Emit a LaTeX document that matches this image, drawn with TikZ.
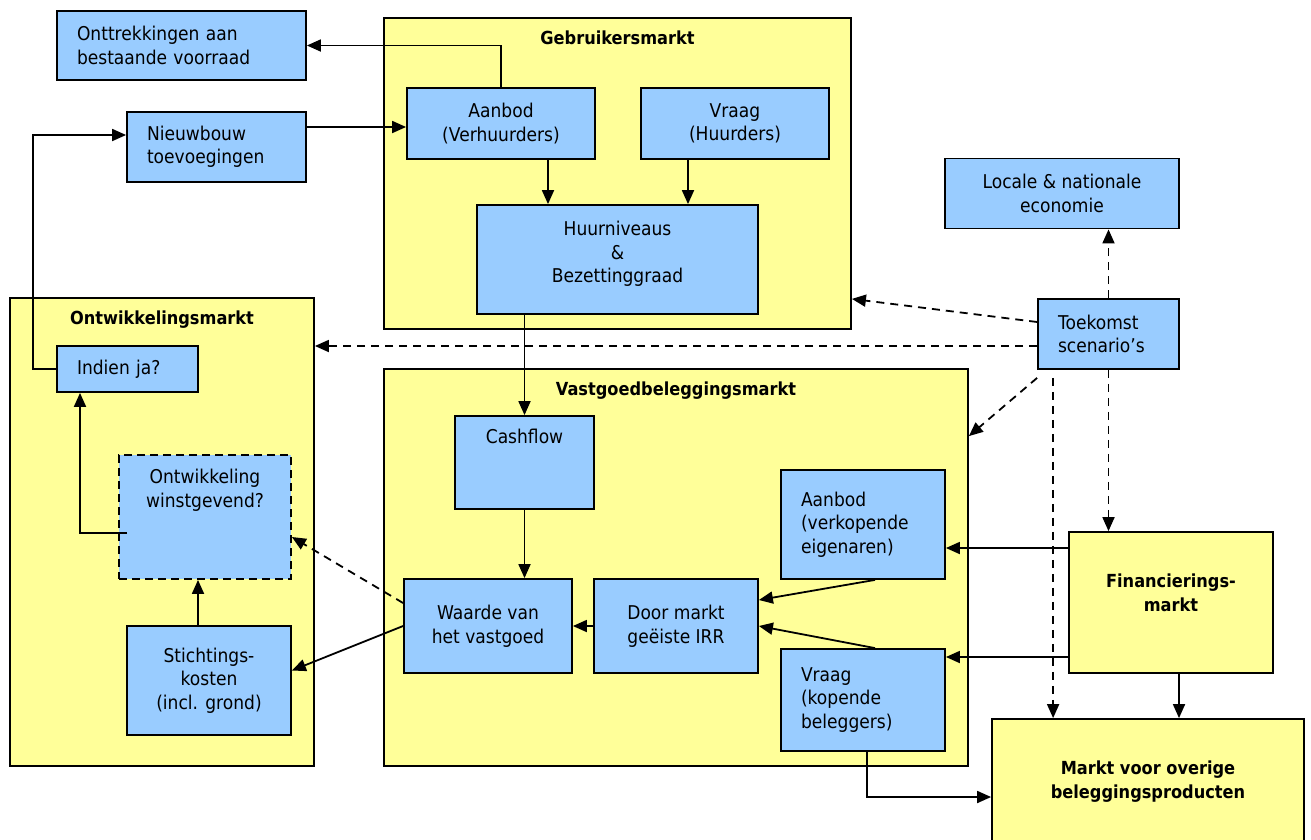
\documentclass[tikz,border=0pt]{standalone}
\usepackage{fontspec}
\setmainfont{DejaVu Sans}[FakeStretch=0.9]
\usetikzlibrary{arrows.meta, positioning, calc}
\definecolor{mktyellow}{HTML}{FFFF99}
\definecolor{blkblue}{HTML}{99CCFF}
\newcommand\mkfont{\fontsize{19}{23.5}\selectfont}
\newcommand\mkbold{\fontsize{18}{24}\selectfont\bfseries}

\begin{document}
\begin{tikzpicture}[
  x=1pt, y=-1pt,
  every node/.style={font=\mkfont},
  mkt/.style={draw, fill=mktyellow, line width=1.8pt, inner sep=0pt, align=center},
  blk/.style={draw, fill=blkblue, line width=1.8pt, inner sep=0pt, align=center},
  lblk/.style={blk, align=left, inner xsep=20pt},
  title/.style={anchor=north, inner sep=0pt, yshift=-14pt, font=\mkbold},
  toptext/.style={anchor=north, inner sep=0pt, yshift=-15pt, align=center},
  flow/.style={-{Triangle[length=14pt,width=12pt]}, line width=1.8pt},
  scen/.style={flow, dash pattern=on 8pt off 6pt},
]
\useasboundingbox (0,0) rectangle (1311,839);

% markten
\node[mkt, minimum width=467pt, minimum height=311pt,
      label={[title]north:Gebruikersmarkt}] (gebr) at (617.5,173.5) {};
\node[mkt, minimum width=304pt, minimum height=468pt,
      label={[title]north:Ontwikkelingsmarkt}] (ontw) at (162,532) {};
\node[mkt, minimum width=584pt, minimum height=397pt,
      label={[title]north:Vastgoedbeleggingsmarkt}] (vast) at (676,567.5) {};
\node[mkt, minimum width=204pt, minimum height=141pt, text depth=20pt, font=\mkbold] (fin) at (1171,602.5) {Financierings-\\markt};
\node[mkt, minimum width=312pt, minimum height=126pt, font=\mkbold] (markt) at (1148,782) {Markt voor overige\\beleggingsproducten};

% gebruikersmarkt
\node[lblk, text width=209pt, minimum height=69pt] (ontt) at (181.5,45.5) {Onttrekkingen aan\\bestaande voorraad};
\node[lblk, text width=139pt, minimum height=70pt] (nieuw) at (216.5,147) {Nieuwbouw\\toevoegingen};
\node[blk, minimum width=188pt, minimum height=71pt] (aanbodv) at (501,123.5) {Aanbod\\(Verhuurders)};
\node[blk, minimum width=188pt, minimum height=71pt] (vraagh) at (735,123.5) {Vraag\\(Huurders)};
\node[blk, minimum width=281pt, minimum height=109pt, text depth=15pt] (huur) at (617.5,259.5) {Huurniveaus\\\&\\Bezettinggraad};

% ontwikkelingsmarkt
\node[lblk, text width=101pt, minimum height=46pt] (indien) at (127.5,369) {Indien ja?};
\node[blk, dash pattern=on 8pt off 5pt, minimum width=172pt, minimum height=124pt,
      label={[toptext]north:Ontwikkeling\\winstgevend?}] (winst) at (205,517) {};
\node[blk, minimum width=164pt, minimum height=109pt] (sticht) at (209,680.5) {Stichtings-\\kosten\\(incl. grond)};

% vastgoedbeleggingsmarkt
\node[blk, minimum width=139pt, minimum height=93pt,
      label={[toptext, yshift=1pt]north:Cashflow}] (cash) at (524.5,462.5) {};
\node[blk, minimum width=168pt, minimum height=94pt] (waarde) at (488,626) {Waarde van\\het vastgoed};
\node[blk, minimum width=164pt, minimum height=94pt] (door) at (676,626) {Door markt\\geëiste IRR};
\node[lblk, text width=124pt, minimum height=109pt] (aanbodk) at (863,524.5) {Aanbod\\(verkopende\\eigenaren)};
\node[lblk, text width=124pt, minimum height=102pt] (vraagk) at (863,700) {Vraag\\(kopende\\beleggers)};

% omgeving
\node[blk, minimum width=234pt, minimum height=70pt] (locale) at (1062,193.5) {Locale \& nationale\\economie};
\node[lblk, text width=101pt, minimum height=70pt] (toek) at (1108.5,334) {Toekomst\\scenario’s};

% pijlen gebruikersmarkt
\draw[flow] (aanbodv.north) |- (ontt.east);
\draw[flow] ([yshift=20pt]nieuw.east) -- ([yshift=20pt]nieuw.east -| aanbodv.west);
\draw[flow] ([xshift=47pt]aanbodv.south) -- ([xshift=47pt]aanbodv.south |- huur.north);
\draw[flow] ([xshift=-47pt]vraagh.south) -- ([xshift=-47pt]vraagh.south |- huur.north);
\draw[flow] (cash.north |- huur.south) -- (cash.north);

% pijlen ontwikkelingsmarkt
\draw[flow] (indien.west) -- ++(-23,0) |- ([yshift=12pt]nieuw.west);
\draw[flow] ([xshift=9pt,yshift=-16pt]winst.west) -| ([xshift=-47.5pt]indien.south);
\draw[flow] ([xshift=-11pt]sticht.north) -- ([xshift=-11pt]sticht.north |- winst.south);

% pijlen vastgoedbeleggingsmarkt
\draw[flow] (cash.south) -- (cash.south |- waarde.north);
\draw[flow] (door.west) -- (waarde.east);
\draw[flow] ([xshift=12pt]aanbodk.south) -- ([yshift=26pt]door.east);
\draw[flow] ([xshift=12pt]vraagk.north) -- (door.east);
\draw[flow] (waarde.west) -- ([yshift=10pt]sticht.east);
\draw[scen] ([yshift=23pt]waarde.west) -- ([yshift=-20pt]winst.east);

% pijlen financieringsmarkt
\draw[flow] ([yshift=-23.5pt]aanbodk.east -| fin.west) -- ([yshift=-23.5pt]aanbodk.east);
\draw[flow] ([yshift=43pt]vraagk.east -| fin.west) -- ([yshift=43pt]vraagk.east);
\draw[flow] ([xshift=8pt]fin.south) -- ([xshift=8pt]fin.south |- markt.north);
\draw[flow] ([xshift=4pt]vraagk.south) |- ([yshift=-15pt]markt.west);

% scenario's
\draw[scen] (toek.north) -- (toek.north |- locale.south);
\draw[scen] ([yshift=12pt]toek.west) -- ([yshift=31pt]gebr.south east);
\draw[scen] ([yshift=-12pt]toek.west) -- ([yshift=-12pt]toek.west -| ontw.east);
\draw[scen] ([yshift=-8pt]toek.south west) -- ([yshift=-68pt]vast.north east);
\draw[scen] ([xshift=16pt,yshift=-8pt]toek.south west) -- ([xshift=16pt]toek.south west |- markt.north);
\draw[scen] (toek.south) -- (toek.south |- fin.north);

\end{tikzpicture}
\end{document}
